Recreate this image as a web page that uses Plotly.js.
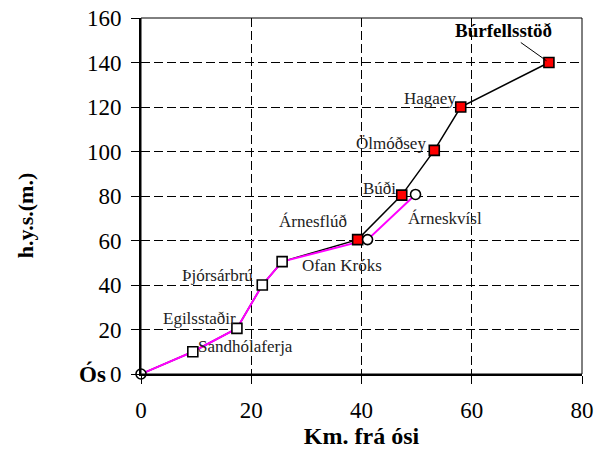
<!DOCTYPE html>
<html>
<head>
<meta charset="utf-8">
<script src="https://cdn.plot.ly/plotly-3.0.1.min.js"></script>
<style>html,body{margin:0;padding:0;background:#fff;}#chart{width:595px;height:450px;}</style>
</head>
<body>
<div id="chart"></div>
<script>
// Main river profile (stations along Þjórsá)
const stationNames = ["Ós", "Sandhólaferja", "Egilsstaðir", "Þjórsárbrú", "Ofan Króks", "Árnesflúð", "Búði", "Ölmóðsey", "Hagaey", "Búrfellsstöð"];
const stationKm = [0, 9.4, 17.4, 22, 25.6, 39.3, 47.3, 53.2, 58, 74];
const stationHeight = [0, 10, 20.5, 40, 50.5, 60.4, 80.4, 100.5, 120, 140];

// Alternative branch (Árneskvísl)
const branchKm = [0, 9.4, 17.4, 22, 25.6, 41.1, 49.8];
const branchHeight = [0, 10, 20.5, 40, 50.5, 60.4, 80.7];
const branchOnlyNames = ["Ós", "", "", "", "", "", "Árneskvísl"];

const xTicks = [0, 20, 40, 60, 80];
const yTicks = [0, 20, 40, 60, 80, 100, 120, 140, 160];

const FONT = '"Liberation Serif", serif';

// marker colour: open squares in lower part, red squares upstream
const sqColors = stationKm.map((k, i) => i < 5 ? "#ffffff" : "#ff0000");

// circle markers only on points unique to the branch (plus the mouth)
const circX = [], circY = [];
branchKm.forEach((k, i) => {
  if (i === 0 || stationKm.indexOf(k) === -1) { circX.push(k); circY.push(branchHeight[i]); }
});

const traces = [
  {x: stationKm, y: stationHeight, type: "scatter", mode: "lines",
   line: {color: "#000000", width: 1.5}, hoverinfo: "skip", showlegend: false},
  {x: branchKm, y: branchHeight, type: "scatter", mode: "lines",
   line: {color: "#ff00ff", width: 2}, hoverinfo: "skip", showlegend: false},
  {x: stationKm.slice(1), y: stationHeight.slice(1), type: "scatter", mode: "markers", cliponaxis: false,
   marker: {symbol: "square", size: 10, color: sqColors.slice(1), line: {color: "#000000", width: 1.6}},
   hoverinfo: "skip", showlegend: false},
  {x: circX, y: circY, type: "scatter", mode: "markers", cliponaxis: false,
   marker: {symbol: "circle", size: 10, color: "#ffffff", line: {color: "#000000", width: 1.6}},
   hoverinfo: "skip", showlegend: false}
];

// label placement (layout only)
const labelPos = {
  "Sandhólaferja": {xanchor: "left", xshift: 3, yshift: 5},
  "Egilsstaðir": {xanchor: "right", xshift: 1, yshift: 10},
  "Þjórsárbrú": {xanchor: "right", xshift: -7, yshift: 10},
  "Ofan Króks": {xanchor: "left", xshift: 18, yshift: -4},
  "Árnesflúð": {xanchor: "right", xshift: -9, yshift: 18},
  "Búði": {xanchor: "right", xshift: -4, yshift: 7},
  "Ölmóðsey": {xanchor: "right", xshift: -6, yshift: 7},
  "Hagaey": {xanchor: "right", xshift: -3, yshift: 9}
};

const annotations = [];
stationNames.forEach((name, i) => {
  if (labelPos[name]) {
    const p = labelPos[name];
    annotations.push({x: stationKm[i], y: stationHeight[i], xref: "x", yref: "y", text: name,
      showarrow: false, xanchor: p.xanchor, yanchor: "middle", xshift: p.xshift, yshift: p.yshift,
      font: {family: FONT, size: 17, color: "#222222"}});
  }
});
// Árneskvísl (branch end)
const bi = branchOnlyNames.indexOf("Árneskvísl");
annotations.push({x: branchKm[bi], y: branchHeight[bi], xref: "x", yref: "y", text: "Árneskvísl",
  showarrow: false, xanchor: "left", yanchor: "middle", xshift: -10, yshift: -24,
  font: {family: FONT, size: 17, color: "#222222"}});
// Búrfellsstöð with leader line
const last = stationNames.length - 1;
annotations.push({x: stationKm[last], y: stationHeight[last], xref: "x", yref: "y",
  text: "<b>" + stationNames[last] + "</b>", showarrow: true, arrowhead: 0, arrowwidth: 1,
  arrowcolor: "#000000", ax: -45, ay: -32, standoff: 3,
  font: {family: FONT, size: 19, color: "#000000"}});
// Ós at the mouth
annotations.push({x: stationKm[0], y: stationHeight[0], xref: "x", yref: "y",
  text: "<b>" + stationNames[0] + "</b>", showarrow: false, xanchor: "right", yanchor: "middle",
  xshift: -33, yshift: 0, font: {family: FONT, size: 23, color: "#000000"}});
// y-axis title (placed as in the original, below the axis centre)
annotations.push({xref: "paper", yref: "paper", x: -0.262, y: 0.447, text: "<b>h.y.s.(m.)</b>",
  showarrow: false, textangle: -90, xanchor: "center", yanchor: "middle",
  font: {family: FONT, size: 22, color: "#000000"}});

const layout = {
  width: 595, height: 450,
  margin: {l: 141, r: 13, t: 18, b: 76},
  paper_bgcolor: "#ffffff", plot_bgcolor: "#ffffff",
  font: {family: FONT, color: "#000000"},
  showlegend: false,
  xaxis: {
    range: [0, 80], tickvals: xTicks, ticktext: xTicks.map(String),
    showgrid: true, gridcolor: "#000000", gridwidth: 1, griddash: "9px,4px",
    zeroline: false, showline: true, linecolor: "#000000", linewidth: 2,
    ticks: "outside", ticklen: 8, tickcolor: "#000000", tickwidth: 1,
    ticklabelstandoff: 6,
    tickfont: {family: FONT, size: 23, color: "#000000"},
    title: {text: "<b>Km. frá ósi</b>", font: {family: FONT, size: 24, color: "#000000"}, standoff: 2}
  },
  yaxis: {
    range: [0, 160], tickvals: yTicks, ticktext: yTicks.map(String),
    showgrid: true, gridcolor: "#000000", gridwidth: 1, griddash: "9px,4px",
    zeroline: false, showline: true, linecolor: "#000000", linewidth: 2,
    ticks: "outside", ticklen: 8, tickcolor: "#000000", tickwidth: 1,
    ticklabelstandoff: 5,
    tickfont: {family: FONT, size: 23, color: "#000000"}
  },
  shapes: [
    {type: "rect", xref: "paper", yref: "paper", x0: 0, x1: 1, y0: 0, y1: 1,
     line: {color: "#000000", width: 1}, fillcolor: "rgba(0,0,0,0)", layer: "above"}
  ],
  annotations: annotations
};

Plotly.newPlot("chart", traces, layout, {displayModeBar: false, staticPlot: true});
</script>
</body>
</html>
